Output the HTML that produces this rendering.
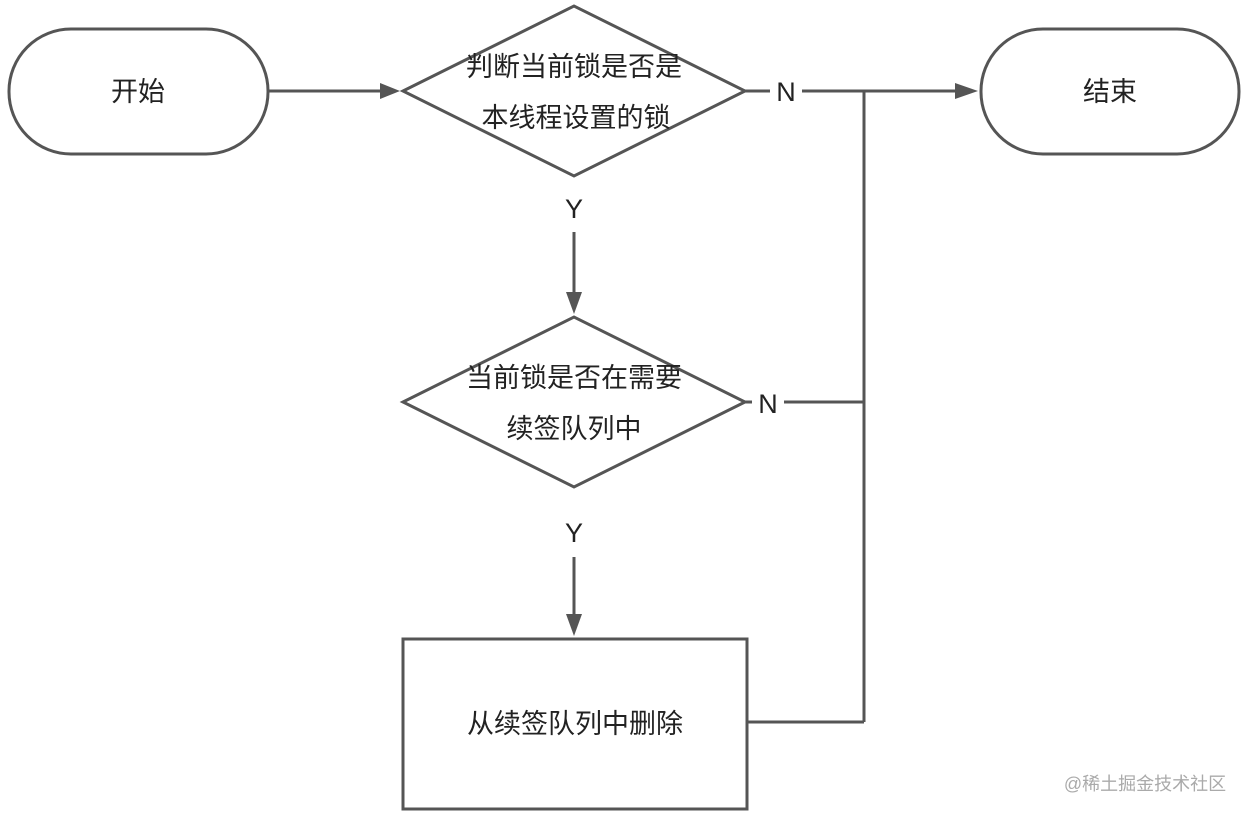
<!DOCTYPE html>
<html><head><meta charset="utf-8"><style>
body{margin:0;background:#fff;}
svg text{font-family:"Liberation Sans","Noto Sans CJK SC",sans-serif;fill:#222;}
</style></head><body>
<svg width="1247" height="816" viewBox="0 0 1247 816" xmlns="http://www.w3.org/2000/svg">
<defs><marker id="a" markerWidth="10" markerHeight="10" refX="9" refY="5" orient="auto" markerUnits="userSpaceOnUse"><path d="M0,0 L22,5 L0,10 Z" transform="scale(0.45,1)"/></marker></defs>
<g stroke="#555" stroke-width="3" fill="none">
<rect x="9" y="29" width="259" height="125" rx="62" fill="#fff"/>
<rect x="981" y="29" width="258" height="125" rx="62" fill="#fff"/>
<polygon points="403,91 574,6 745,91 574,176" fill="#fff"/>
<polygon points="403,402 574,317 745,402 574,487" fill="#fff"/>
<rect x="403" y="639" width="344" height="170" fill="#fff"/>
<line x1="268" y1="91" x2="385" y2="91"/>
<line x1="745" y1="91" x2="770" y2="91"/>
<line x1="802" y1="91" x2="960" y2="91"/>
<line x1="574" y1="232" x2="574" y2="296"/>
<line x1="574" y1="557" x2="574" y2="618"/>
<line x1="745" y1="402" x2="752" y2="402"/>
<line x1="784" y1="402" x2="864" y2="402"/>
<line x1="864" y1="91" x2="864" y2="722"/>
<line x1="747" y1="722" x2="864" y2="722"/>
</g>
<g fill="#555">
<polygon points="380,83 400,91 380,99"/>
<polygon points="955,83 978,91 955,99"/>
<polygon points="566,292 574,314 582,292"/>
<polygon points="566,614 574,636 582,614"/>
</g>
<g font-size="27" text-anchor="middle">
<text x="138" y="101">开始</text>
<text x="1110" y="101">结束</text>
<text x="574" y="76">判断当前锁是否是</text>
<text x="576" y="127">本线程设置的锁</text>
<text x="574" y="387">当前锁是否在需要</text>
<text x="574" y="438">续签队列中</text>
<text x="575" y="733">从续签队列中删除</text>
<text x="786" y="101">N</text>
<text x="768" y="413">N</text>
<text x="574" y="218">Y</text>
<text x="574" y="542">Y</text>
</g>
<text x="1145" y="790" font-size="18" text-anchor="middle" style="fill:#aaa">@稀土掘金技术社区</text>
</svg>
</body></html>
